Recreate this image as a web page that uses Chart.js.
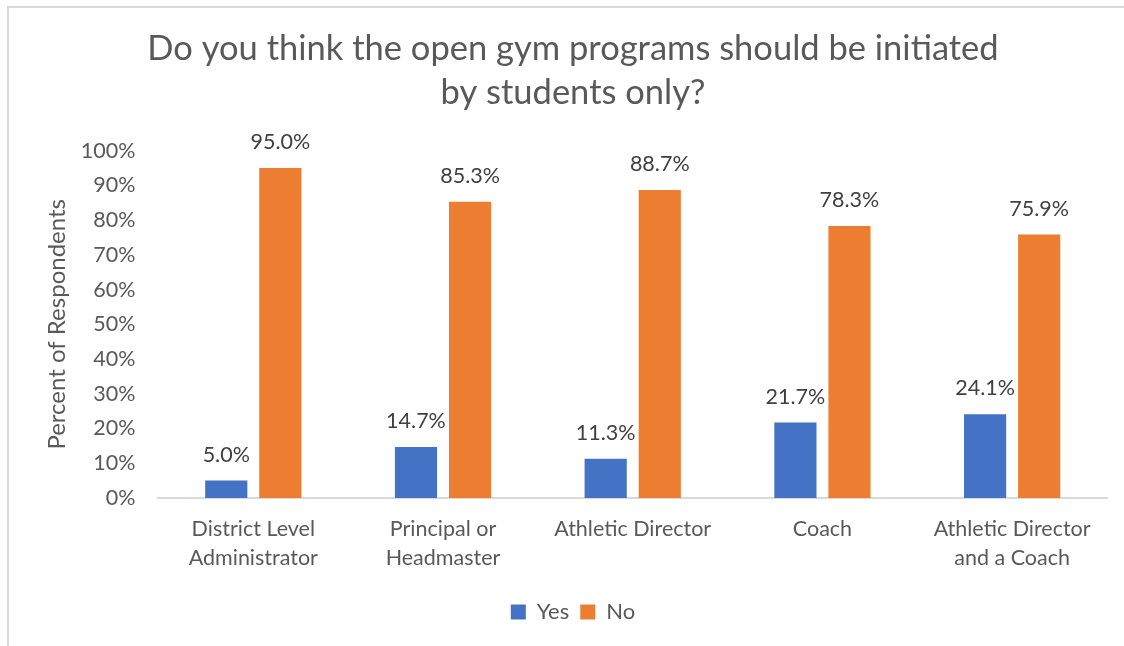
<!DOCTYPE html>
<html>
<head>
<meta charset="utf-8">
<script src="https://cdn.jsdelivr.net/npm/chart.js@4"></script>
<style>
  html, body { margin: 0; padding: 0; background: #fff; }
  #wrap { position: relative; width: 1124px; height: 646px; overflow: hidden; }
  #frame { position: absolute; left: 7px; top: 6px; width: 1130px; height: 660px;
           border-left: 2px solid #d9d9d9; border-top: 2px solid #d9d9d9; box-sizing: border-box; }
  canvas { position: absolute; left: 0; top: 0; }
</style>
</head>
<body>
<div id="wrap">
  <div id="frame"></div>
  <canvas id="chart" width="1124" height="646"></canvas>
</div>
<script>
// chart data
const categories = [
  ["District Level", "Administrator"],
  ["Principal or", "Headmaster"],
  "Athletic Director",
  "Coach",
  ["Athletic Director", "and a Coach"]
];
const yesValues = [5.0, 14.7, 11.3, 21.7, 24.1];
const noValues = [95.0, 85.3, 88.7, 78.3, 75.9];
const yTicks = [0, 10, 20, 30, 40, 50, 60, 70, 80, 90, 100];

const FONT = "Lato, 'Open Sans', sans-serif";
const grey = '#595959';

// labels over each bar
const barLabels = {
  id: 'barLabels',
  afterDatasetsDraw(chart) {
    const ctx = chart.ctx;
    ctx.save();
    ctx.font = '21.5px ' + FONT;
    ctx.fillStyle = '#404040';
    ctx.textAlign = 'center';
    ctx.textBaseline = 'bottom';
    chart.data.datasets.forEach((ds, i) => {
      chart.getDatasetMeta(i).data.forEach((bar, j) => {
        ctx.fillText(ds.data[j].toFixed(1) + '%', bar.x, bar.y - 15);
      });
    });
    ctx.restore();
  }
};

new Chart(document.getElementById('chart'), {
  type: 'bar',
  data: {
    labels: categories,
    datasets: [
      { label: 'Yes', data: yesValues, backgroundColor: '#4472c4' },
      { label: 'No', data: noValues, backgroundColor: '#ed7d31' }
    ]
  },
  options: {
    responsive: false,
    animation: false,
    devicePixelRatio: 1,
    categoryPercentage: 0.57,
    barPercentage: 0.78,
    layout: { padding: { left: 39, right: 17, top: 18, bottom: 13 } },
    plugins: {
      title: {
        display: true,
        text: ['Do you think the open gym programs should be initiated', 'by students only?'],
        color: grey,
        font: { family: FONT, size: 34.5, weight: 'normal', lineHeight: 1.3 },
        padding: { top: 8, bottom: 35 }
      },
      legend: {
        position: 'bottom',
        labels: {
          color: grey,
          font: { family: FONT, size: 22 },
          boxWidth: 15, boxHeight: 15,
          padding: 11
        }
      },
      tooltip: { enabled: false }
    },
    scales: {
      x: {
        grid: { display: false, drawTicks: false },
        border: { color: '#d9d9d9', width: 2 },
        ticks: { color: grey, font: { family: FONT, size: 21.5, lineHeight: 1.35 }, padding: 17, maxRotation: 0 }
      },
      y: {
        min: 0, max: 100,
        afterBuildTicks(axis) { axis.ticks = yTicks.map(v => ({ value: v })); },
        grid: { display: false, drawTicks: false },
        border: { display: false },
        ticks: { color: grey, font: { family: FONT, size: 21.5 }, padding: 23, callback: v => v + '%' },
        title: { display: true, text: 'Percent of Respondents', color: grey,
                 font: { family: FONT, size: 24 }, padding: { top: 4, bottom: -14 } }
      }
    }
  },
  plugins: [barLabels]
});
</script>
</body>
</html>
